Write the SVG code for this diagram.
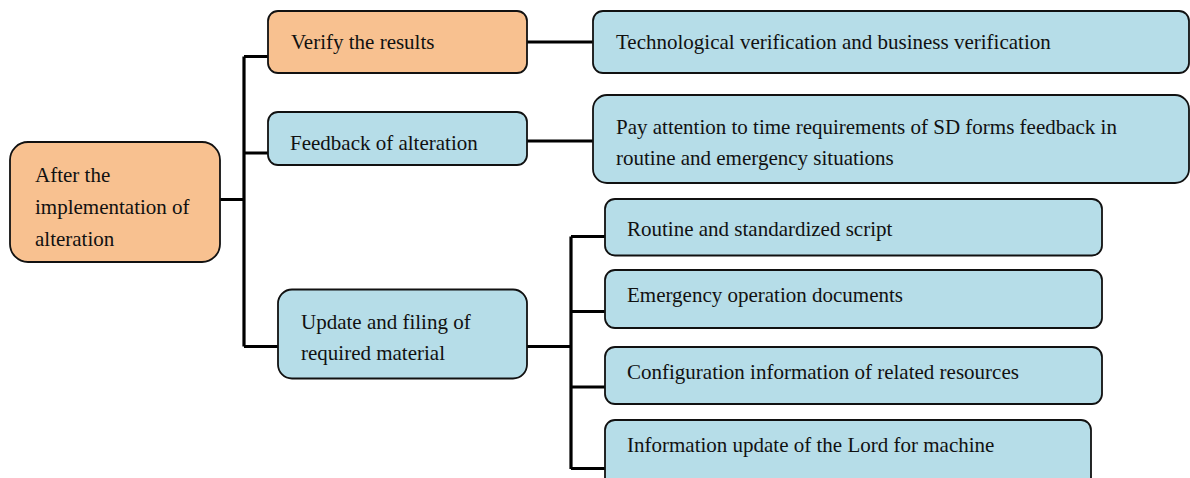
<svg xmlns="http://www.w3.org/2000/svg" width="1190" height="478" viewBox="0 0 1190 478">
<style>
.box{stroke:#111;stroke-width:1.8}
.or{fill:#F8C190}
.bl{fill:#B6DDE8}
.t{font-family:"Liberation Serif","Times New Roman",serif;font-size:21px;fill:#111}
.c{fill:none;stroke:#000;stroke-width:3.2}
</style>
<rect width="1190" height="478" fill="#fff"/>
<g id="connectors">
<path class="c" d="M220 199.5H244M244 56.5V346.5M244 56.5H268M244 153H268M244 346.5H278"/>
<path class="c" d="M527 42H593M527 141H593"/>
<path class="c" d="M527 346.5H571M571 236.5V469M571 236.5H605M571 311.5H605M571 387H605M571 468.5H605"/>
</g>
<g id="root">
<rect class="box or" x="10" y="142" width="210" height="120" rx="18"/>
<text class="t" x="35" y="182">After the</text>
<text class="t" x="35" y="214">implementation of</text>
<text class="t" x="35" y="246">alteration</text>
</g>
<g id="verify">
<rect class="box or" x="268" y="11" width="259" height="62" rx="10"/>
<text class="t" x="291" y="49">Verify the results</text>
</g>
<g id="feedback">
<rect class="box bl" x="268" y="112" width="259" height="53" rx="10"/>
<text class="t" x="290" y="150">Feedback of alteration</text>
</g>
<g id="update">
<rect class="box bl" x="278" y="289.5" width="249" height="89" rx="14"/>
<text class="t" x="301" y="329">Update and filing of</text>
<text class="t" x="301" y="360">required material</text>
</g>
<g id="tech">
<rect class="box bl" x="593" y="11" width="596" height="62" rx="10"/>
<text class="t" x="616" y="49">Technological verification and business verification</text>
</g>
<g id="pay">
<rect class="box bl" x="593" y="95" width="596" height="88" rx="14"/>
<text class="t" x="616" y="134">Pay attention to time requirements of SD forms feedback in</text>
<text class="t" x="616" y="165">routine and emergency situations</text>
</g>
<g id="routine">
<rect class="box bl" x="605" y="199" width="497" height="56.5" rx="10"/>
<text class="t" x="627" y="236">Routine and standardized script</text>
</g>
<g id="emergency">
<rect class="box bl" x="605" y="270" width="497" height="58" rx="10"/>
<text class="t" x="627" y="302">Emergency operation documents</text>
</g>
<g id="config">
<rect class="box bl" x="605" y="347" width="497" height="57" rx="10"/>
<text class="t" x="627" y="379">Configuration information of related resources</text>
</g>
<g id="info">
<rect class="box bl" x="605" y="420" width="486" height="70" rx="10"/>
<text class="t" x="627" y="452">Information update of the Lord for machine</text>
</g>
</svg>
